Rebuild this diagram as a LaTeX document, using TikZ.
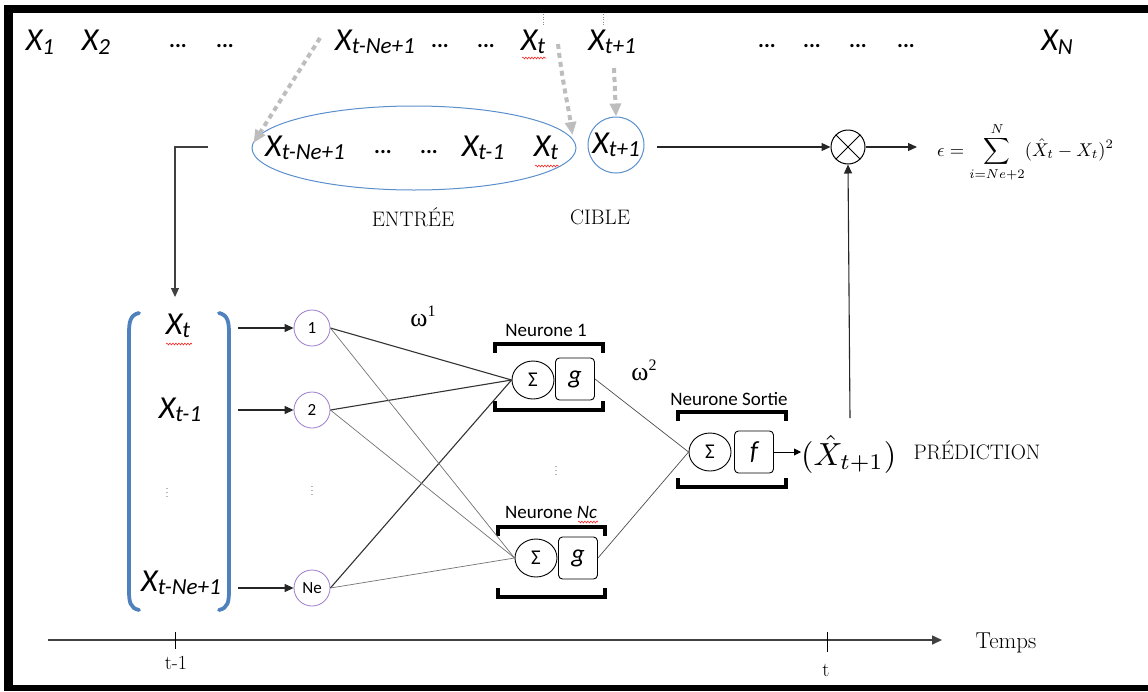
\documentclass[tikz,border=0pt]{standalone}
\usepackage{amsmath}
\usepackage{graphicx}
\usepackage{fontspec}
\newfontfamily\carl{Carlito}
\newfontfamily\tnr{Liberation Serif}
\usetikzlibrary{arrows.meta,decorations.pathmorphing,shapes.geometric,calc}
\definecolor{ellblue}{HTML}{5B8FCB}
\definecolor{brblue}{HTML}{4F81BD}
\definecolor{purp}{HTML}{9A7CCB}
\definecolor{dgray}{HTML}{BDBDBD}
\newcommand{\XS}[1]{X\raisebox{-3.5pt}{\fontsize{23}{23}\selectfont #1}}
\begin{document}
\begin{tikzpicture}[x=1pt,y=-1pt,
  xlab/.style={font=\carl\itshape\fontsize{32}{34}\selectfont, inner sep=0pt},
  dotl/.style={font=\carl\bfseries\fontsize{22}{22}\selectfont, inner sep=0pt},
  serifl/.style={font=\fontsize{21}{21}\selectfont, inner sep=0pt},
  neurl/.style={font=\carl\fontsize{19}{19}\selectfont, inner sep=0pt},
  sig/.style={ellipse, draw, minimum width=42pt, minimum height=38pt, inner sep=0pt, line width=0.9pt, font=\carl\fontsize{21}{21}\selectfont},
  gbox/.style={rectangle, rounded corners=4pt, draw, minimum width=39pt, minimum height=42pt, inner sep=0pt, line width=0.9pt, font=\carl\itshape\fontsize{26}{26}\selectfont},
  incirc/.style={circle, draw=purp, line width=0.8pt, minimum size=36pt, inner sep=0pt, font=\carl\fontsize{17}{17}\selectfont},
  hbr/.style={line width=3.6pt, line join=miter},
  arr/.style={-{Triangle[length=9pt,width=8pt]}, line width=1.1pt, draw=black!85},
  garr/.style={draw=dgray, line width=4pt, dash pattern=on 5pt off 4pt, -{Triangle[length=13pt,width=11pt,fill=dgray]}},
  wl/.style={line width=1.1pt, draw=black!80},
  gl/.style={line width=0.7pt, draw=black!55},
  squig/.style={draw=red!85, line width=0.6pt, decorate, decoration={snake, segment length=3pt, amplitude=0.9pt}},
  vdot/.style={font=\fontsize{11}{11}\selectfont, inner sep=0pt, text=black!70}
]
\useasboundingbox (0,0) rectangle (1148,691);
% frame
\fill[black] (4,5) rectangle (1148,13);
\fill[black] (4,5) rectangle (13,691);
\fill[black] (4,685) rectangle (1148,691);

% top row
\node[xlab] (x1) at (40,42) {\XS{1}};
\node[xlab] (x2) at (96,42) {\XS{2}};
\node[dotl] (d1) at (178,46) {...};
\node[dotl] (d2) at (225,46) {...};
\node[xlab] (xtn) at (375,42) {\XS{t-Ne+1}};
\node[dotl] (d3) at (440,46) {...};
\node[dotl] (d4) at (486,46) {...};
\node[xlab] (xt) at (533,42) {\XS{t}};
\node[xlab] (xt1) at (612,42) {\XS{t+1}};
\node[dotl] (d5) at (767,46) {...};
\node[dotl] (d6) at (812,46) {...};
\node[dotl] (d7) at (858,46) {...};
\node[dotl] (d8) at (906,46) {...};
\node[xlab] (xN) at (1057,42) {\XS{N}};
\draw[squig] (522,58) -- (546,58);

% thin dotted marks above X_t and X_{t+1}
\coordinate (mA1) at (543,14); \coordinate (mA2) at (543,26);
\coordinate (mB1) at (603,14); \coordinate (mB2) at (603,26);
\draw[black!45, line width=0.6pt, dotted] (mA1) -- (mA2);
\draw[black!45, line width=0.6pt, dotted] (mB1) -- (mB2);

% ellipse and circle
\node[ellipse, draw=ellblue, line width=1pt, minimum width=324pt, minimum height=84pt] (ent) at (414,148) {};
\node[xlab] (e1) at (305,148) {\XS{t-Ne+1}};
\node[dotl] (e2) at (383,152) {...};
\node[dotl] (e3) at (429,152) {...};
\node[xlab] (e4) at (483,148) {\XS{t-1}};
\node[xlab] (e5) at (546,148) {\XS{t}};
\draw[squig] (535,166) -- (559,166);
\node[circle, draw=ellblue, line width=1pt, minimum size=56pt, inner sep=0pt] (cib) at (616,145) {};
\node[xlab] (cibt) at (616,145) {\XS{t+1}};
\node[serifl] (lent) at (413,217) {ENTRÉE};
\node[serifl] (lcib) at (600,217) {CIBLE};

% gray dotted arrows
\coordinate (ga1) at (320,38);
\coordinate (ga2) at (558,44);
\coordinate (ga3) at (614,68);
\coordinate (gt1) at ($(ent.west)+(2,-5)$);
\coordinate (gt2) at ($(ent.east)+(-4,-13)$);
\draw[garr] (ga1) -- (gt1);
\draw[garr] (ga2) .. controls (562,80) and (568,105) .. (gt2);
\draw[garr] (ga3) -- (cib.north);

% comparator
\node[circle, draw, line width=1pt, minimum size=34pt, inner sep=0pt] (cmp) at (848,147) {};
\draw[line width=1pt] (cmp.45) -- (cmp.225) (cmp.135) -- (cmp.315);
\coordinate (cibout) at (657,147);
\draw[arr] (cibout) -- (cmp.west);
\node[inner sep=0pt, anchor=west] (eq) at (937,152) {\scalebox{1.85}{$\displaystyle \epsilon = \sum_{i=Ne+2}^{N} (\hat{X}_t - X_t)^2$}};
\coordinate (eqin) at (917,147);
\draw[arr] (cmp.east) -- (eqin);

% L connector
\coordinate (lstart) at (208,147);
\coordinate (coltop) at (175,297);
\draw[arr, draw=black!75] (lstart) -| (coltop);

% big blue bracket
\draw[brblue, line width=3.8pt, line cap=round] (139,313) .. controls (130,315) and (129,322) .. (129,334) -- (129,590) .. controls (129,602) and (130,608) .. (139,610);
\draw[brblue, line width=3.8pt, line cap=round] (219,313) .. controls (228,315) and (229,322) .. (229,334) -- (229,590) .. controls (229,602) and (228,608) .. (219,610);
\node[xlab] (c1) at (178,326) {\XS{t}};
\draw[squig] (166,344) -- (192,344);
\node[xlab] (c2) at (180,410) {\XS{t-1}};
\node[vdot] (c3) at (167,490) {$\vdots$};
\node[xlab] (c4) at (181,583) {\XS{t-Ne+1}};

% input neurons
\node[incirc] (n1) at (312,328) {1};
\node[incirc] (n2) at (312,410) {2};
\node[vdot] (n3) at (312,488) {$\vdots$};
\node[incirc] (ne) at (312,588) {Ne};
\coordinate (a1) at (238,328);
\coordinate (a2) at (238,410);
\coordinate (a3) at (238,588);
\draw[arr] (a1) -- (n1.west);
\draw[arr] (a2) -- (n2.west);
\draw[arr] (a3) -- (ne.west);

\node[inner sep=0pt] (w1) at (423,316) {{\tnr\fontsize{26}{26}\selectfont ω\raisebox{10pt}{\fontsize{16}{16}\selectfont 1}}};
\node[inner sep=0pt] (w2) at (644,370) {{\tnr\fontsize{26}{26}\selectfont ω\raisebox{10pt}{\fontsize{16}{16}\selectfont 2}}};

% hidden neuron 1
\node[neurl] (lab1) at (546,330) {Neurone 1};
\draw[hbr] (495,353) -- (495,344) -- (603,344) -- (603,353);
\node[sig] (s1) at (533,380) {Σ};
\node[gbox] (g1) at (575,379) {g};
\draw[hbr] (495,401) -- (495,410) -- (603,410) -- (603,401);

\node[vdot] (hd) at (556,468) {$\vdots$};

% hidden neuron Nc
\node[neurl] (lab2) at (551,512) {Neurone \textit{Nc}};
\draw[squig] (578,522) -- (598,522);
\draw[hbr] (498,536) -- (498,527) -- (605,527) -- (605,536);
\node[sig] (s2) at (536,558) {Σ};
\node[gbox] (g2) at (578,558) {g};
\draw[hbr] (498,588) -- (498,597) -- (605,597) -- (605,588);

% output neuron
\node[neurl] (lab3) at (729,399) {Neurone Sortie};
\draw[hbr] (678,421) -- (678,412) -- (786,412) -- (786,421);
\node[sig] (so) at (710,452) {Σ};
\node[gbox] (fo) at (754,452) {f};
\draw[hbr] (678,478) -- (678,487) -- (786,487) -- (786,478);

% weights
\draw[wl] (n1.east) -- (s1.west);
\draw[wl] (n2.east) -- (s1.west);
\draw[wl] (ne.east) -- (s1.west);
\draw[gl] (n1.east) -- (s2.west);
\draw[gl] (n2.east) -- (s2.west);
\draw[gl] (ne.east) -- (s2.west);
\draw[gl, draw=black!70] (g1.east) -- (so.west);
\draw[gl, draw=black!70] (g2.east) -- (so.west);

% output
\node[inner sep=0pt, anchor=west] (pred) at (801,454) {\scalebox{3.2}{$(\hat{X}_{t+1})$}};
\draw[-{Triangle[length=7pt,width=7pt]}, line width=0.9pt] (fo.east) -- (fo.east -| pred.west);
\node[serifl] (lpred) at (977,450) {PRÉDICTION};
\coordinate (vtop) at (850,418);
\draw[arr] (vtop) -- (cmp.south);

% time axis
\coordinate (ax0) at (48,640);
\coordinate (ax1) at (942,640);
\draw[black!75, line width=1.6pt, -{Triangle[length=10pt,width=9pt]}] (ax0) -- (ax1);
\coordinate (tk1a) at (175,632); \coordinate (tk1b) at (175,649);
\coordinate (tk2a) at (827,632); \coordinate (tk2b) at (827,652);
\draw[line width=0.9pt] (tk1a) -- (tk1b);
\draw[line width=0.9pt] (tk2a) -- (tk2b);
\node[font=\fontsize{20}{20}\selectfont, inner sep=0pt] (lt1) at (176,663) {t-1};
\node[font=\fontsize{20}{20}\selectfont, inner sep=0pt] (lt2) at (826,670) {t};
\node[font=\fontsize{23}{23}\selectfont, inner sep=0pt] (ltemps) at (1006,643) {Temps};
\end{tikzpicture}
\end{document}
